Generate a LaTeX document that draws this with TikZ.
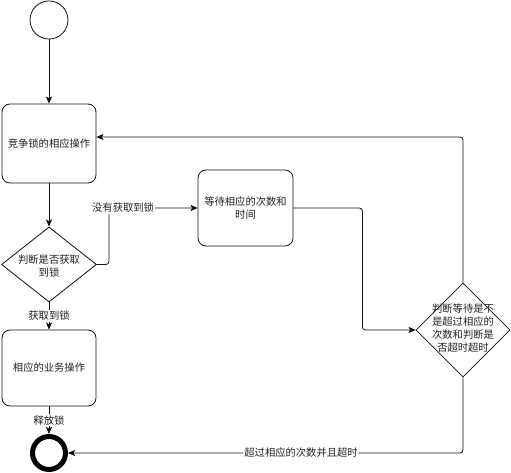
\documentclass[tikz,border=0pt]{standalone}
\usepackage{fontspec}
\usepackage{xcolor,tikz}
\usetikzlibrary{arrows.meta,positioning,shapes.geometric}
\newfontfamily\cjk{Noto Sans CJK SC}
\definecolor{FlowLine}{HTML}{111111}
\definecolor{FlowText}{HTML}{222222}
\tikzset{>={Stealth[length=7pt,width=6pt,inset=1.5pt]},
 every node/.style={font=\cjk\fontsize{10.3}{13}\selectfont,text=FlowText},
 actbox/.style={draw=FlowLine,line width=.8pt,fill=white,rounded corners=8pt,align=center,inner sep=2pt},
 decision/.style={diamond,draw=FlowLine,line width=.8pt,fill=white,inner sep=0pt},
 startdot/.style={circle,draw=FlowLine,line width=.8pt,fill=white,minimum size=38pt,inner sep=0pt},
 enddot/.style={circle,draw=black,line width=5pt,fill=white,minimum size=33pt,inner sep=0pt},
 lbl/.style={fill=white,inner sep=1pt},
 flow/.style={draw=FlowLine,->,line width=.8pt,rounded corners=3pt}}

\begin{document}
\begin{tikzpicture}[x=1pt,y=-1pt]
\useasboundingbox (0,0) rectangle (511,473);
% main column
\node[startdot] (start) at (49,20) {};
\node[actbox,minimum width=94pt,minimum height=79pt] (compete) at (49,143.5) {竞争锁的相应操作};
\node[decision,minimum width=95pt,minimum height=75pt] (lockq) at (49,264.5) {};
\node[align=center] (lockqtext) at (49,266) {判断是否获取\\到锁};
\node[actbox,minimum width=94pt,minimum height=76pt] (work) at (49,368) {相应的业务操作};
\node[enddot] (finish) at (49,453) {};
% waiting branch
\node[actbox,minimum width=95pt,minimum height=76pt] (wait) at (245.5,208) {等待相应的次数和\\时间};
\node[decision,minimum width=94pt,minimum height=94pt] (judge) at (463,330) {};
\node[align=center] (judgetext) at (463,328.5) {判断等待是不\\是超过相应的\\次数和判断是\\否超时超时};
\draw[flow] (start) -- (compete);
\draw[flow] (compete) -- (lockq);
\draw[flow] (lockq) -- node[lbl]{获取到锁} (work);
\draw[flow] (work) -- node[lbl]{释放锁} (finish);
\draw[flow] (lockq.east) -- ++(12,0) |- node[lbl,pos=.58]{没有获取到锁} (wait.west);
\draw[flow] (wait.east) -- ++(69,0) |- (judge.west);
\draw[flow] (judge.north) |- ([yshift=6.5pt]compete.east);
\draw[flow] (judge.south) |- node[lbl,pos=.705]{超过相应的次数并且超时} (finish.east);
\end{tikzpicture}
\end{document}
